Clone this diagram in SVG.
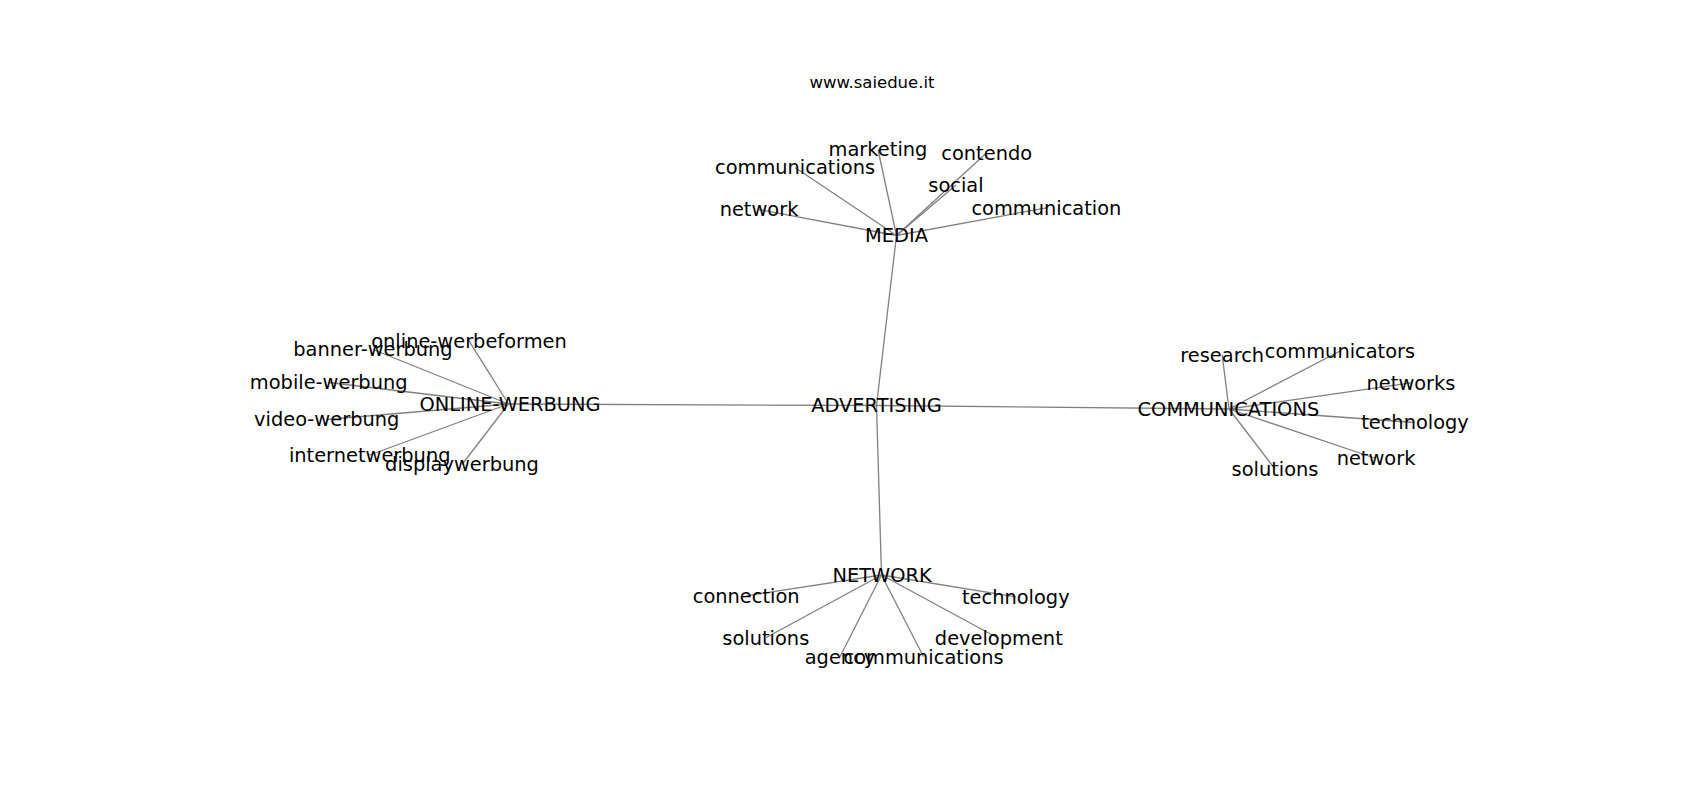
<svg xmlns="http://www.w3.org/2000/svg" width="1700" height="800" viewBox="0 0 1700 800">
<style>
text{font-family:"DejaVu Sans","Liberation Sans",sans-serif;fill:#000;text-anchor:middle}
.lbl{font-size:19.4px}
.title{font-size:16.5px}
.edges line{stroke:#808080;stroke-width:1.3}
</style>
<rect width="1700" height="800" fill="#fff"/>
<text class="title" x="872" y="88">www.saiedue.it</text>
<g id="connectors" class="edges">
<line x1="876.5" y1="405.5" x2="896.5" y2="235.5"/>
<line x1="876.5" y1="405.5" x2="508.5" y2="404"/>
<line x1="876.5" y1="405.5" x2="1229" y2="409"/>
<line x1="876.5" y1="405.5" x2="881.5" y2="575"/>
<line x1="896.5" y1="235.5" x2="878" y2="149.5"/>
<line x1="896.5" y1="235.5" x2="795" y2="167.5"/>
<line x1="896.5" y1="235.5" x2="986.7" y2="152.8"/>
<line x1="896.5" y1="235.5" x2="956" y2="185"/>
<line x1="896.5" y1="235.5" x2="759" y2="209.5"/>
<line x1="896.5" y1="235.5" x2="1046.4" y2="207.8"/>
<line x1="508.5" y1="404" x2="469" y2="340.8"/>
<line x1="508.5" y1="404" x2="373" y2="349.5"/>
<line x1="508.5" y1="404" x2="328.7" y2="382.5"/>
<line x1="508.5" y1="404" x2="326.7" y2="419.5"/>
<line x1="508.5" y1="404" x2="369.7" y2="455"/>
<line x1="508.5" y1="404" x2="462" y2="464.5"/>
<line x1="1229" y1="409" x2="1222.2" y2="355"/>
<line x1="1229" y1="409" x2="1340" y2="351"/>
<line x1="1229" y1="409" x2="1411" y2="382.8"/>
<line x1="1229" y1="409" x2="1415" y2="422.5"/>
<line x1="1229" y1="409" x2="1376" y2="458.5"/>
<line x1="1229" y1="409" x2="1275" y2="469"/>
<line x1="881.5" y1="575" x2="746.2" y2="595.8"/>
<line x1="881.5" y1="575" x2="1015.8" y2="596.8"/>
<line x1="881.5" y1="575" x2="765.8" y2="637.8"/>
<line x1="881.5" y1="575" x2="998.8" y2="638.5"/>
<line x1="881.5" y1="575" x2="840" y2="656.8"/>
<line x1="881.5" y1="575" x2="923.5" y2="656.8"/>
</g>
<g id="n-advertising"><text class="lbl" x="876.5" y="412.2">ADVERTISING</text></g>
<g id="n-media"><text class="lbl" x="896.5" y="242.2">MEDIA</text></g>
<g id="n-online-werbung"><text class="lbl" x="510" y="410.7">ONLINE-WERBUNG</text></g>
<g id="n-communications"><text class="lbl" x="1228.4" y="415.7">COMMUNICATIONS</text></g>
<g id="n-network"><text class="lbl" x="882" y="581.7">NETWORK</text></g>
<g id="n-media-marketing"><text class="lbl" x="878" y="156.2">marketing</text></g>
<g id="n-media-communications"><text class="lbl" x="795" y="174.2">communications</text></g>
<g id="n-media-contendo"><text class="lbl" x="986.7" y="159.5">contendo</text></g>
<g id="n-media-social"><text class="lbl" x="956" y="191.7">social</text></g>
<g id="n-media-network"><text class="lbl" x="759" y="216.2">network</text></g>
<g id="n-media-communication"><text class="lbl" x="1046.4" y="214.5">communication</text></g>
<g id="n-ow-online-werbeformen"><text class="lbl" x="469" y="347.5">online-werbeformen</text></g>
<g id="n-ow-banner-werbung"><text class="lbl" x="373" y="356.2">banner-werbung</text></g>
<g id="n-ow-mobile-werbung"><text class="lbl" x="328.7" y="389.2">mobile-werbung</text></g>
<g id="n-ow-video-werbung"><text class="lbl" x="326.7" y="426.2">video-werbung</text></g>
<g id="n-ow-internetwerbung"><text class="lbl" x="369.7" y="461.7">internetwerbung</text></g>
<g id="n-ow-displaywerbung"><text class="lbl" x="462" y="471.3">displaywerbung</text></g>
<g id="n-com-research"><text class="lbl" x="1222.2" y="361.7">research</text></g>
<g id="n-com-communicators"><text class="lbl" x="1340" y="357.7">communicators</text></g>
<g id="n-com-networks"><text class="lbl" x="1411" y="389.5">networks</text></g>
<g id="n-com-technology"><text class="lbl" x="1415" y="429.2">technology</text></g>
<g id="n-com-network"><text class="lbl" x="1376" y="465.2">network</text></g>
<g id="n-com-solutions"><text class="lbl" x="1275" y="475.7">solutions</text></g>
<g id="n-net-connection"><text class="lbl" x="746.2" y="602.5">connection</text></g>
<g id="n-net-technology"><text class="lbl" x="1015.8" y="603.5">technology</text></g>
<g id="n-net-solutions"><text class="lbl" x="765.8" y="644.5">solutions</text></g>
<g id="n-net-development"><text class="lbl" x="998.8" y="645.2">development</text></g>
<g id="n-net-agency"><text class="lbl" x="840" y="663.5">agency</text></g>
<g id="n-net-communications"><text class="lbl" x="923.5" y="663.5">communications</text></g>
</svg>
